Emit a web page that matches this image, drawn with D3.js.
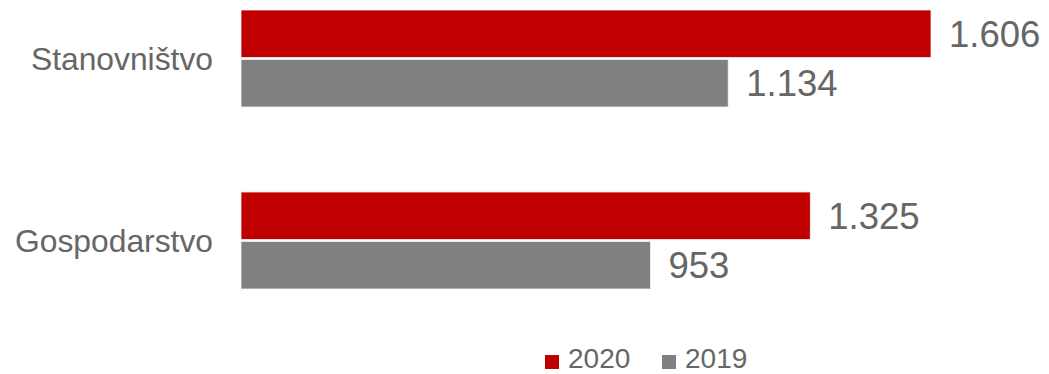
<html>
<head>
  <script src="https://cdn.jsdelivr.net/npm/d3@7"></script>
  <style>
    body { margin: 0; background: #fff; }
    text { font-family: Arial, "Liberation Sans", sans-serif; }
  </style>
</head>
<body>
<svg id="chart" width="1049" height="374"></svg>
<script>
var categories = ['Stanovništvo', 'Gospodarstvo']
var years = ['2020', '2019']
var values2020 = [1606, 1325]
var values2019 = [1134, 953]
var colors = ['#C00000', '#808080']

var svg = d3.select('#chart')
var series = [values2020, values2019]

var fmt = d3.formatLocale({ decimal: ',', thousands: '.', grouping: [3], currency: ['', ' €'] }).format(',d')

var x = d3.scaleLinear().domain([0, 1606]).range([241, 931])
var y = d3.scaleBand().domain(categories).range([10, 289]).paddingInner(0.467).paddingOuter(0)
var ys = d3.scaleBand().domain(years).range([0, y.bandwidth()]).paddingInner(0.04)

var groups = svg.selectAll('.grp')
  .data(categories)
  .enter().append('g')
  .attr('class', 'grp')
  .attr('transform', function (d) { return 'translate(0,' + y(d) + ')' })

groups.each(function (cat, i) {
  var g = d3.select(this)
  years.forEach(function (yr, j) {
    var v = series[j][i]
    g.append('rect')
      .attr('x', x(0))
      .attr('y', ys(yr))
      .attr('width', x(v) - x(0))
      .attr('height', ys.bandwidth())
      .attr('fill', colors[j])
      .attr('stroke', '#f2f2f2')
      .attr('stroke-width', 0.8)
    g.append('text')
      .attr('x', x(v) + 18)
      .attr('y', ys(yr) + ys.bandwidth() / 2)
      .attr('dy', '0.36em')
      .attr('font-size', 36.5)
      .attr('fill', '#666666')
      .text(fmt(v))
  })
  g.append('text')
    .attr('x', 213)
    .attr('y', y.bandwidth() / 2)
    .attr('dy', '0.36em')
    .attr('text-anchor', 'end')
    .attr('font-size', 31.8)
    .attr('fill', '#666666')
    .text(cat)
})

// legend
var legendX = [545, 662]
var legend = svg.selectAll('.leg')
  .data(years)
  .enter().append('g')
  .attr('class', 'leg')
  .attr('transform', function (d, i) { return 'translate(' + legendX[i] + ',355)' })
legend.append('rect')
  .attr('width', 14).attr('height', 14)
  .attr('fill', function (d, i) { return colors[i] })
legend.append('text')
  .attr('x', 23).attr('y', 13)
  .attr('font-size', 28)
  .attr('fill', '#666666')
  .text(function (d) { return d })
</script>
</body>
</html>
